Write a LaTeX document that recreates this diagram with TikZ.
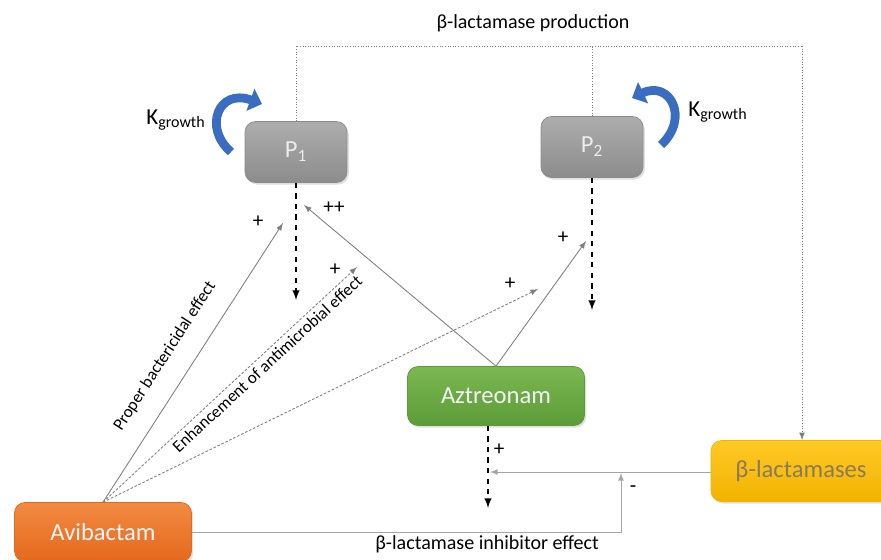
\documentclass[tikz,border=0pt]{standalone}
\usepackage{fontspec}
\setmainfont{Carlito}
\usepackage{tikz}
\usetikzlibrary{shapes,arrows,arrows.meta,positioning,calc,shadows}
\definecolor{pgraytop}{HTML}{ADADAD}
\definecolor{pgraybot}{HTML}{8C8C8C}
\definecolor{aztgreentop}{HTML}{7BB752}
\definecolor{aztgreenbot}{HTML}{5C9C36}
\definecolor{aviorangetop}{HTML}{F28A42}
\definecolor{aviorangebot}{HTML}{E4691D}
\definecolor{blacyellowtop}{HTML}{FFC925}
\definecolor{blacyellowbot}{HTML}{F1B300}
\definecolor{blactext}{HTML}{8A7A5C}
\definecolor{curlblue}{HTML}{3A6DBF}
\definecolor{linegray}{HTML}{7F7F7F}
\tikzstyle{block} = [rectangle, rounded corners=6pt, text centered, drop shadow={opacity=0.25, shadow xshift=1pt, shadow yshift=-1.2pt}]
\tikzstyle{pbox} = [block, top color=pgraytop, bottom color=pgraybot, draw=pgraybot, text=white!85!gray, minimum width=2.04cm, minimum height=1.22cm, font=\fontsize{14}{16}\selectfont]
\tikzstyle{drugbox} = [block, minimum width=3.54cm, minimum height=1.18cm, font=\fontsize{14}{16}\selectfont, text=white!92!gray]
\tikzstyle{dotline} = [densely dotted, linegray, line width=0.5pt]
\tikzstyle{dasharrow} = [->, dashed, black, line width=0.9pt]
\tikzstyle{solidarrow} = [->, linegray, line width=0.5pt]
\tikzstyle{dotarrow} = [->, linegray, dash pattern=on 1.5pt off 1pt, line width=0.5pt]
\tikzstyle{effect} = [text=black, font=\fontsize{9.7}{11}\selectfont]
\tikzstyle{sign} = [font=\fontsize{12}{13}\selectfont, inner sep=0pt]
\tikzstyle{curl} = [curlblue, line width=5pt, -{Triangle[length=7pt, width=13pt]}]

\begin{document}
\begin{tikzpicture}[x=0.02cm, y=-0.02cm, >=latex, font=\fontsize{10}{12}\selectfont]
    \useasboundingbox (0,0) rectangle (881,560);
    % boxes
    \node[pbox] (P1) at (296,152) {P\textsubscript{1}};
    \node[pbox] (P2) at (592,147) {P\textsubscript{2}};
    \node[drugbox, top color=aztgreentop, bottom color=aztgreenbot, draw=aztgreenbot] (azt) at (496,396) {Aztreonam};
    \node[drugbox, top color=aviorangetop, bottom color=aviorangebot, draw=aviorangebot] (avi) at (103,532) {Avibactam};
    \node[drugbox, minimum width=3.6cm, minimum height=1.22cm, top color=blacyellowtop, bottom color=blacyellowbot, draw=blacyellowbot, text=blactext] (blac) at (801,471) {β-lactamases};

    % growth
    \node (kg1) at (176,120) {\fontsize{13}{15}\selectfont K\textsubscript{growth}};
    \node (kg2) at (718,112) {\fontsize{13}{15}\selectfont K\textsubscript{growth}};
    \draw[curl] (231,152) .. controls (203,128) and (218,88) .. (262,104);
    \draw[curl] (661,145) .. controls (690,118) and (670,80) .. (632,98);

    % beta-lactamase production
    \node (prod) at (533,23) {\fontsize{11.4}{13}\selectfont β-lactamase production};
    \coordinate (top1) at (295,46);
    \coordinate (top3) at (802,46);
    \draw[dotline] (P1.north) |- (top3);
    \draw[dotline] (P2.north) -- (P2.north |- top1);
    \draw[dotline, ->] (top3) -- (top3 |- blac.north);

    % killing
    \coordinate (p1end) at (296,300);
    \coordinate (p2end) at (592,310);
    \coordinate (aztend) at (488,508);
    \draw[dasharrow] (P1.south) -- (p1end);
    \draw[dasharrow] (P2.south) -- (p2end);
    \draw[dasharrow] (aztend |- azt.south) -- (aztend);

    % avibactam effects
    \coordinate (bact) at (283,223);
    \coordinate (enh) at (357,267);
    \coordinate (enh2) at (538,289);
    \draw[solidarrow] (avi.north) -- node[effect, sloped, above=11pt, pos=0.47, inner sep=0pt] {Proper bactericidal effect} (bact);
    \draw[dotarrow] (avi.north) -- node[effect, sloped, below, pos=0.62, inner sep=2pt] {Enhancement of antimicrobial effect} (enh);
    \draw[dotarrow] (avi.north) -- (enh2);

    % aztreonam effects
    \coordinate (azp1) at (304,205);
    \coordinate (azp2) at (586,241);
    \draw[solidarrow] (azt.north) -- (azp1);
    \draw[solidarrow] (azt.north) -- (azp2);

    % inhibition
    \coordinate (hydro) at (490,472);
    \coordinate (inhtip) at (621,473);
    \draw[solidarrow, linegray!70] (blac.west |- hydro) -- (hydro);
    \draw[solidarrow, linegray!70] (avi.east) -| node[effect, below, pos=0.344, inner sep=2pt, font=\fontsize{11.4}{13}\selectfont] {β-lactamase inhibitor effect} (inhtip);

    % signs
    \node[sign] (s1) at (258,222) {+};
    \node[sign] (s2) at (335,270) {+};
    \node[sign] (s3) at (334,208) {++};
    \node[sign] (s4) at (510,284) {+};
    \node[sign] (s5) at (563,238) {+};
    \node[sign] (s6) at (499,450) {+};
    \node[sign] (s7) at (633,489) {-};
\end{tikzpicture}
\end{document}
